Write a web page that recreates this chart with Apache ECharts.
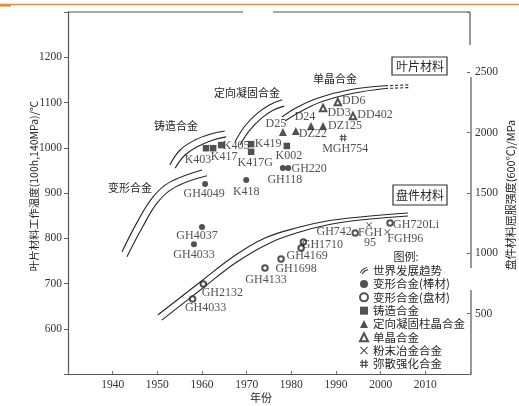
<!DOCTYPE html>
<html><head><meta charset="utf-8">
<script src="https://cdn.jsdelivr.net/npm/echarts/dist/echarts.min.js"></script>
<style>html,body{margin:0;padding:0;background:#fff}#c{width:519px;height:406px}</style>
</head><body><div id="c"></div>
<script>
// ---------- DATA ----------
const xTickLabels = [1940, 1950, 1960, 1970, 1980, 1990, 2000, 2010];
const leftTickLabels = [600, 700, 800, 900, 1000, 1100, 1200];
const rightTickLabels = [500, 1000, 1500, 2000, 2500];

// 变形合金(棒材) – blade temperature (°C)
const barNames = ['GH4049', 'K418', 'GH4037', 'GH4033', 'GH118', 'GH220'];
const barYears = [1960.7, 1969.9, 1960.0, 1958.2, 1978.1, 1979.3];
const barTemps = [920, 929, 825, 787, 955, 955];

// 铸造合金
const castNames = ['K403', 'K417', 'K405', 'K419', 'K417G', 'K002'];
const castYears = [1960.9, 1962.5, 1964.3, 1971.0, 1971.0, 1979.0];
const castTemps = [999, 999, 1006, 1008, 991, 1004];

// 定向凝固柱晶合金
const dsNames = ['D25', 'DZ22', 'D24', 'DZ125'];
const dsYears = [1978.1, 1981.0, 1984.4, 1987.1];
const dsTemps = [1035, 1037, 1048, 1048];

// 单晶合金
const scNames = ['DD3', 'DD6', 'DD402'];
const scYears = [1987.1, 1990.4, 1993.8];
const scTemps = [1088, 1101, 1070];

// 弥散强化合金
const odsNames = ['MGH754'];
const odsYears = [1991.6];
const odsTemps = [1022];

// 变形合金(盘材) – disc yield strength (MPa)
const discNames = ['GH4033', 'GH2132', 'GH4133', 'GH1698', 'GH4169', 'GH1710', 'GH742', 'GH720Li'];
const discYears = [1957.9, 1960.3, 1974.1, 1977.7, 1982.2, 1982.7, 1994.3, 2002.1];
const discStrength = [622, 746, 878, 953, 1044, 1094, 1168, 1251];

// 粉末冶金合金
const pmNames = ['FGH95', 'FGH96'];
const pmYears = [1997.4, 2001.5];
const pmStrength = [1235, 1177];

// 世界发展趋势 bands (year, value)
const wroughtBandA = [[1942.1, 770], [1945.4, 834], [1949.0, 891], [1952.8, 924], [1960.0, 951]];
const wroughtBandB = [[1943.2, 759], [1946.6, 823], [1950.1, 880], [1954.0, 913], [1961.1, 938]];
const castBandA = [[1952.8, 962], [1955.1, 995], [1958.4, 1017], [1961.8, 1030], [1965.1, 1037]];
const castBandB = [[1954.0, 955], [1956.2, 984], [1959.3, 1004], [1962.5, 1017], [1965.4, 1024]];
const dsBandA = [[1967.4, 1013], [1969.6, 1048], [1972.5, 1077], [1975.2, 1095], [1977.9, 1106]];
const dsBandB = [[1968.5, 1006], [1970.7, 1039], [1973.4, 1066], [1975.9, 1083], [1978.4, 1092]];
const scBandA = [[1977.9, 1068], [1981.0, 1088], [1986.0, 1110], [1993.1, 1128], [2001.0, 1137]];
const scBandB = [[1978.6, 1059], [1981.9, 1079], [1986.9, 1102], [1993.6, 1120], [2001.0, 1131]];
const scBandDashA = [[2001.0, 1137], [2006.6, 1139]];
const scBandDashB = [[2001.0, 1131], [2006.6, 1133]];
const discBandA = [[1950.1, 489], [1959.6, 762], [1966.9, 970], [1974.1, 1127], [1981.9, 1218], [1988.0, 1268], [1995.4, 1301], [2006.1, 1334]];
const discBandB = [[1951.0, 447], [1960.2, 713], [1967.8, 928], [1975.2, 1086], [1981.9, 1177], [1988.0, 1235], [1995.4, 1276], [2006.1, 1309]];

// ---------- STYLE ----------
const INK = '#262626';
const SERIF = '"Liberation Serif","DejaVu Serif",serif';
const CJK = '"Noto Sans CJK SC","Noto Sans",sans-serif';
const barLabelOffsets = [[-1, 10], [0, 12], [-5, 9], [0, 11], [2, 12], [21, 1]];
const castLabelOffsets = [[-8, 12], [11, 9], [15, 1], [17, 0], [4, 11], [2, 10]];
const dsLabelOffsets = [[-7, -8], [17, 3], [-6, -9], [22, 0]];
const scLabelOffsets = [[16, 5], [16, -1], [22, -1]];
const odsLabelOffsets = [[2, 11]];
const discLabelOffsets = [[13, 9], [19, 9], [1, 12], [15, 10], [6, 8], [19, 3], [-21, -1], [26, 2]];
const pmLabelOffsets = [[1, 13], [18, 7]];
const pmLabelText = { FGH95: 'FGH\n95', FGH96: 'FGH96' };

const PATH_X = 'path://M0,1L1,0L5,4L9,0L10,1L6,5L10,9L9,10L5,6L1,10L0,9L4,5Z';
const PATH_HASH = 'path://M2,0h1.6v10h-1.6z M6.4,0h1.6v10h-1.6z M0,2.4h10v1.5h-10z M0,6.1h10v1.5h-10z';
const PATH_TREND = 'path://M0,9Q3,1 12,0L12,1.4Q4.5,2.6 1.4,9.6Z M3,11Q6,4 13,3.5L13,4.9Q7.5,5.6 4.4,11.6Z';

function pointData(names, years, vals, offsets, textMap) {
  return names.map((n, i) => ({
    name: n,
    value: [years[i], vals[i]],
    label: { offset: offsets[i], formatter: textMap && textMap[n] ? textMap[n] : n }
  }));
}
const labelBase = { show: true, position: 'inside', fontFamily: SERIF, fontSize: 12, color: INK, lineHeight: 10 };

function scatter(name, data, symbol, size, yIdx, empty) {
  return {
    type: 'scatter', name, yAxisIndex: yIdx, symbol, symbolSize: size, data, color: INK,
    itemStyle: empty ? { color: INK, borderColor: INK, borderWidth: 1.2 } : { color: INK },
    label: labelBase, emphasis: { disabled: true }, z: 3
  };
}
function trend(data, yIdx, dashed) {
  return {
    type: 'line', name: '世界发展趋势', yAxisIndex: yIdx, data, smooth: 0.4,
    showSymbol: false, symbol: 'none', color: INK,
    lineStyle: { color: INK, width: 1.1, type: dashed ? [3, 2] : 'solid' },
    emphasis: { disabled: true }, z: 2
  };
}

const series = [
  trend(wroughtBandA, 0), trend(wroughtBandB, 0),
  trend(castBandA, 0), trend(castBandB, 0),
  trend(dsBandA, 0), trend(dsBandB, 0),
  trend(scBandA, 0), trend(scBandB, 0),
  trend(scBandDashA, 0, true), trend(scBandDashB, 0, true),
  trend(discBandA, 1), trend(discBandB, 1),
  scatter('变形合金(棒材)', pointData(barNames, barYears, barTemps, barLabelOffsets), 'circle', 6, 0),
  scatter('变形合金(盘材)', pointData(discNames, discYears, discStrength, discLabelOffsets), 'emptyCircle', 5.5, 1, true),
  scatter('铸造合金', pointData(castNames, castYears, castTemps, castLabelOffsets), 'rect', 6.5, 0),
  scatter('定向凝固柱晶合金', pointData(dsNames, dsYears, dsTemps, dsLabelOffsets), 'triangle', 8, 0),
  scatter('单晶合金', pointData(scNames, scYears, scTemps, scLabelOffsets), 'emptyTriangle', 6.5, 0, true),
  scatter('粉末冶金合金', pointData(pmNames, pmYears, pmStrength, pmLabelOffsets, pmLabelText), PATH_X, 6, 1),
  scatter('弥散强化合金', pointData(odsNames, odsYears, odsTemps, odsLabelOffsets), PATH_HASH, 7, 0)
];

const axisTextStyle = { fontFamily: SERIF, fontSize: 11.5, color: '#333' };

const option = {
  animation: false,
  backgroundColor: '#fff',
  grid: { left: 68, right: 49, top: 12, bottom: 32, containLabel: false, outerBoundsMode: 'none' },
  xAxis: {
    type: 'value', min: 1930, max: 2020, interval: 10,
    axisLine: { show: true, onZero: false, lineStyle: { color: '#555', width: 1.2 } },
    axisTick: { show: true, inside: true, length: 3, lineStyle: { color: '#777' } },
    axisLabel: Object.assign({ margin: 5, formatter: v => xTickLabels.includes(v) ? String(v) : '' }, axisTextStyle),
    splitLine: { show: false }
  },
  yAxis: [
    {
      type: 'value', min: 500, max: 1300, interval: 100, position: 'left',
      axisLine: { show: true, onZero: false, lineStyle: { color: '#555', width: 1.2 } },
      axisTick: { show: true, inside: false, length: 4, lineStyle: { color: '#666' } },
      axisLabel: Object.assign({ margin: 6, formatter: v => leftTickLabels.includes(v) ? String(v) : '' }, axisTextStyle),
      splitLine: { show: false }
    },
    {
      type: 'value', min: 0, max: 3000, interval: 500, position: 'right',
      axisLine: { show: false },
      axisTick: { show: true, inside: true, length: 3, lineStyle: { color: '#666' } },
      axisLabel: Object.assign({ margin: 5, formatter: v => rightTickLabels.includes(v) ? String(v) : '' }, axisTextStyle),
      splitLine: { show: false }
    }
  ],
  legend: {
    orient: 'vertical', left: 359, top: 265, padding: 0, itemWidth: 8, itemHeight: 8, itemGap: 1.8,
    selectedMode: false,
    textStyle: { fontFamily: CJK, fontSize: 11.5, color: INK },
    data: [
      { name: '世界发展趋势', icon: PATH_TREND },
      { name: '变形合金(棒材)', icon: 'circle' },
      { name: '变形合金(盘材)', icon: 'emptyCircle' },
      { name: '铸造合金', icon: 'rect' },
      { name: '定向凝固柱晶合金', icon: 'triangle' },
      { name: '单晶合金', icon: 'emptyTriangle' },
      { name: '粉末冶金合金', icon: PATH_X },
      { name: '弥散强化合金', icon: PATH_HASH }
    ]
  },
  graphic: [
    // page decoration
    { type: 'line', shape: { x1: 0, y1: 4.5, x2: 519, y2: 4.5 }, style: { stroke: '#f08a2c', lineWidth: 1.3 }, silent: true },
    { type: 'rect', shape: { x: 0, y: 4, width: 11, height: 2.6 }, style: { fill: '#f08a2c' }, silent: true },
    // frame pieces
    { type: 'line', shape: { x1: 68, y1: 12, x2: 243, y2: 12 }, style: { stroke: '#555', lineWidth: 1.2 } },
    { type: 'line', shape: { x1: 273, y1: 12, x2: 470, y2: 12 }, style: { stroke: '#555', lineWidth: 1.2 } },
    { type: 'line', shape: { x1: 470, y1: 12, x2: 470, y2: 45 }, style: { stroke: '#555', lineWidth: 1.2 } },
    { type: 'line', shape: { x1: 471, y1: 77, x2: 471, y2: 268 }, style: { stroke: '#555', lineWidth: 1.2 } },
    { type: 'line', shape: { x1: 471, y1: 290, x2: 471, y2: 375 }, style: { stroke: '#555', lineWidth: 1.2 } },
    // boxes
    { type: 'rect', shape: { x: 392, y: 57, width: 55, height: 18 }, style: { fill: '#fff', stroke: '#333', lineWidth: 1.2 } },
    { type: 'text', x: 420, y: 66.5, style: { text: '叶片材料', font: '12px ' + CJK, fill: INK, align: 'center', verticalAlign: 'middle' } },
    { type: 'rect', shape: { x: 393, y: 185, width: 54, height: 20 }, style: { fill: '#fff', stroke: '#333', lineWidth: 1.2 } },
    { type: 'text', x: 420, y: 195.5, style: { text: '盘件材料', font: '12px ' + CJK, fill: INK, align: 'center', verticalAlign: 'middle' } },
    // band names
    { type: 'text', x: 130, y: 188, style: { text: '变形合金', font: '11px ' + CJK, fill: INK, align: 'center', verticalAlign: 'middle' } },
    { type: 'text', x: 176, y: 126, style: { text: '铸造合金', font: '11px ' + CJK, fill: INK, align: 'center', verticalAlign: 'middle' } },
    { type: 'text', x: 247, y: 93, style: { text: '定向凝固合金', font: '11px ' + CJK, fill: INK, align: 'center', verticalAlign: 'middle' } },
    { type: 'text', x: 335, y: 79, style: { text: '单晶合金', font: '11px ' + CJK, fill: INK, align: 'center', verticalAlign: 'middle' } },
    // legend heading
    { type: 'text', x: 406, y: 257, style: { text: '图例:', font: '11px ' + CJK, fill: INK, align: 'center', verticalAlign: 'middle' } },
    // axis titles
    { type: 'text', x: 34, y: 186, rotation: Math.PI / 2, style: { text: '叶片材料工作温度(100h,140MPa)/℃', font: '10.5px ' + CJK, fill: INK, align: 'center', verticalAlign: 'middle' } },
    { type: 'text', x: 511, y: 195, rotation: Math.PI / 2, style: { text: '盘件材料屈服强度(600℃)/MPa', font: '11px ' + CJK, fill: INK, align: 'center', verticalAlign: 'middle' } },
    { type: 'text', x: 261, y: 398, style: { text: '年份', font: '11px ' + CJK, fill: INK, align: 'center', verticalAlign: 'middle' } }
  ],
  series
};

const chart = echarts.init(document.getElementById('c'), null, { renderer: 'canvas' });
chart.setOption(option);
</script>
</body></html>
